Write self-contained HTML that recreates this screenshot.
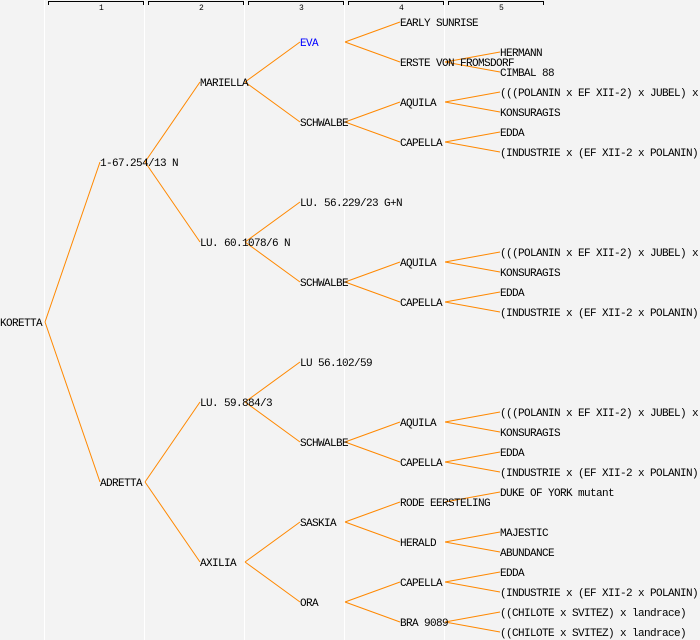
<!DOCTYPE html>
<html><head><meta charset="utf-8"><style>
html,body{margin:0;padding:0;background:#f3f3f3;}
svg{display:block}
text{font-family:"Liberation Mono","DejaVu Sans Mono",monospace;font-size:11px;letter-spacing:-0.6px;fill:#000}
.r{font-size:8px;letter-spacing:0}
</style></head><body>
<svg width="700" height="640" xmlns="http://www.w3.org/2000/svg">
<rect width="700" height="640" fill="#f3f3f3"/>
<g stroke="#fff" stroke-width="1">
<line x1="44.5" y1="0" x2="44.5" y2="640"/><line x1="144.5" y1="0" x2="144.5" y2="640"/>
<line x1="244.5" y1="0" x2="244.5" y2="640"/><line x1="344.5" y1="0" x2="344.5" y2="640"/>
<line x1="444.5" y1="0" x2="444.5" y2="640"/>
</g>
<g stroke="#000" fill="none" stroke-width="1">
<path d="M48.5 5V1.5H143.5V5"/><path d="M148.5 5V1.5H243.5V5"/><path d="M248.5 5V1.5H343.5V5"/><path d="M348.5 5V1.5H443.5V5"/><path d="M448.5 5V1.5H543.5V5"/>
</g>
<text class="r" x="99" y="10">1</text><text class="r" x="199" y="10">2</text><text class="r" x="299" y="10">3</text><text class="r" x="399" y="10">4</text><text class="r" x="499" y="10">5</text>
<g stroke="#ff8800" stroke-width="1" fill="none">
<path d="M45 322L100 162M45 322L100 482"/>
<path d="M145 162L200 82M145 162L200 242M145 482L200 402M145 482L200 562"/>
<path d="M245 82L300 42M245 82L300 122M245 242L300 202M245 242L300 282M245 402L300 362M245 402L300 442M245 562L300 522M245 562L300 602"/>
<path d="M345 42L400 22M345 42L400 62M345 122L400 102M345 122L400 142M345 282L400 262M345 282L400 302M345 442L400 422M345 442L400 462M345 522L400 502M345 522L400 542M345 602L400 582M345 602L400 622"/>
<path d="M445 62L500 52M445 62L500 72M445 102L500 92M445 102L500 112M445 142L500 132M445 142L500 152M445 262L500 252M445 262L500 272M445 302L500 292M445 302L500 312M445 422L500 412M445 422L500 432M445 462L500 452M445 462L500 472M445 502L500 492M445 542L500 532M445 542L500 552M445 582L500 572M445 582L500 592M445 622L500 612M445 622L500 632"/>
</g>
<text x="0" y="326">KORETTA</text>
<text x="100" y="166">1-67.254/13 N</text><text x="100" y="486">ADRETTA</text>
<text x="200" y="86">MARIELLA</text><text x="200" y="246">LU. 60.1078/6 N</text><text x="200" y="406">LU. 59.884/3</text><text x="200" y="566">AXILIA</text>
<text x="300" y="46" style="fill:#0000ff">EVA</text><text x="300" y="126">SCHWALBE</text><text x="300" y="206">LU. 56.229/23 G+N</text><text x="300" y="286">SCHWALBE</text><text x="300" y="366">LU 56.102/59</text><text x="300" y="446">SCHWALBE</text><text x="300" y="526">SASKIA</text><text x="300" y="606">ORA</text>
<text x="400" y="26">EARLY SUNRISE</text><text x="400" y="66">ERSTE VON FROMSDORF</text><text x="400" y="106">AQUILA</text><text x="400" y="146">CAPELLA</text>
<text x="400" y="266">AQUILA</text><text x="400" y="306">CAPELLA</text><text x="400" y="426">AQUILA</text><text x="400" y="466">CAPELLA</text>
<text x="400" y="506">RODE EERSTELING</text><text x="400" y="546">HERALD</text><text x="400" y="586">CAPELLA</text><text x="400" y="626">BRA 9089</text>
<text x="500" y="56">HERMANN</text><text x="500" y="76">CIMBAL 88</text>
<text x="500" y="96">(((POLANIN x EF XII-2) x JUBEL) x</text><text x="500" y="116">KONSURAGIS</text><text x="500" y="136">EDDA</text><text x="500" y="156">(INDUSTRIE x (EF XII-2 x POLANIN))</text>
<text x="500" y="256">(((POLANIN x EF XII-2) x JUBEL) x</text><text x="500" y="276">KONSURAGIS</text><text x="500" y="296">EDDA</text><text x="500" y="316">(INDUSTRIE x (EF XII-2 x POLANIN))</text>
<text x="500" y="416">(((POLANIN x EF XII-2) x JUBEL) x</text><text x="500" y="436">KONSURAGIS</text><text x="500" y="456">EDDA</text><text x="500" y="476">(INDUSTRIE x (EF XII-2 x POLANIN))</text>
<text x="500" y="496">DUKE OF YORK mutant</text><text x="500" y="536">MAJESTIC</text><text x="500" y="556">ABUNDANCE</text>
<text x="500" y="576">EDDA</text><text x="500" y="596">(INDUSTRIE x (EF XII-2 x POLANIN))</text>
<text x="500" y="616">((CHILOTE x SVITEZ) x landrace)</text><text x="500" y="636">((CHILOTE x SVITEZ) x landrace)</text>
</svg>
</body></html>
